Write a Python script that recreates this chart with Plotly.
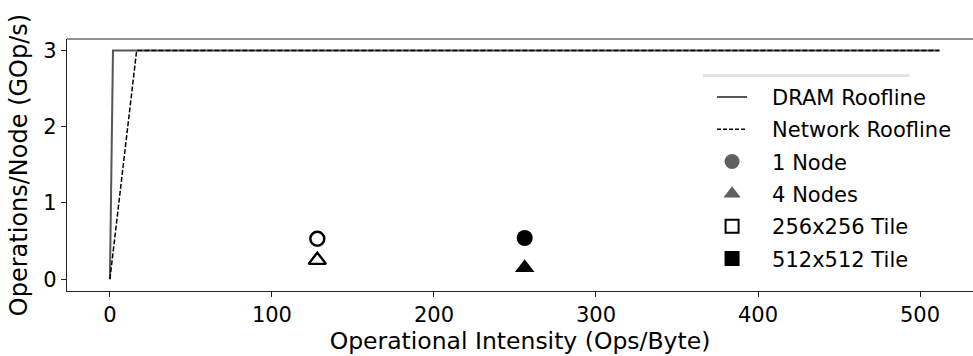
import plotly.graph_objects as go

# Roofline data
roof_x_dram = [0, 1.875, 512]
roof_y_dram = [0, 3, 3]
roof_x_net = [0, 16.5, 512]
roof_y_net = [0, 3, 3]

# Measured points
tile256_x = [128, 128]
tile256_y = [0.53, 0.25]
tile512_x = [256, 256]
tile512_y = [0.54, 0.15]
node_symbols = ["circle", "triangle-up"]

x_ticks = [0, 100, 200, 300, 400, 500]
y_ticks = [0, 1, 2, 3]

FONT = "DejaVu Sans"
NB = "\u00a0" * 3
fig = go.Figure()

fig.add_trace(go.Scatter(x=roof_x_dram, y=roof_y_dram, mode="lines",
                         line=dict(color="#555555", width=2), showlegend=False))
fig.add_trace(go.Scatter(x=roof_x_net, y=roof_y_net, mode="lines",
                         line=dict(color="black", width=1.5, dash="5px,2px"), showlegend=False))

fig.add_trace(go.Scatter(x=tile256_x, y=tile256_y, mode="markers",
                         marker=dict(symbol=node_symbols, size=[14, 15], opacity=1,
                                     color="white", line=dict(color="black", width=2.4)),
                         showlegend=False))
fig.add_trace(go.Scatter(x=tile512_x, y=tile512_y, mode="markers",
                         marker=dict(symbol=node_symbols, size=[16, 17], opacity=1,
                                     color="black", line=dict(color="black", width=0)),
                         showlegend=False))

# Legend proxies
legend_items = [
    ("DRAM Roofline", dict(mode="lines", line=dict(color="#555555", width=2))),
    ("Network Roofline", dict(mode="lines", line=dict(color="black", width=1.5, dash="4px,2px"))),
    ("1 Node", dict(mode="markers", marker=dict(symbol="circle", size=15, color="#606060"))),
    ("4 Nodes", dict(mode="markers", marker=dict(symbol="triangle-up", size=15, color="#606060"))),
    ("256x256 Tile", dict(mode="markers", marker=dict(symbol="square", size=13, color="white",
                                                       line=dict(color="black", width=2)))),
    ("512x512 Tile", dict(mode="markers", marker=dict(symbol="square", size=15, color="black"))),
]
for i, (name, kw) in enumerate(legend_items):
    fig.add_trace(go.Scatter(x=[None], y=[None], name=NB + name, legendgroup=f"g{i}", **kw))

axis_common = dict(showline=True, linecolor="#222222", linewidth=1.2, ticks="outside",
                   ticklen=5, tickcolor="#222222", showgrid=False, zeroline=False,
                   tickfont=dict(family=FONT, size=21, color="black"))

fig.update_xaxes(range=[-26.5, 532.7], tickvals=x_ticks,
                 title=dict(text="Operational Intensity (Ops/Byte)",
                            font=dict(family=FONT, size=23.5, color="black"), standoff=3),
                 **axis_common)
fig.update_yaxes(range=[-0.155, 3.15], tickvals=y_ticks,
                 title=dict(text="Operations/Node (GOp/s)",
                            font=dict(family=FONT, size=24, color="black"), standoff=8),
                 **axis_common)

fig.update_layout(
    width=973, height=356,
    margin=dict(l=67, r=0, t=39, b=65),
    plot_bgcolor="white", paper_bgcolor="white",
    font=dict(family=FONT, color="black"),
    legend=dict(x=0.712, y=0.85, xanchor="left", yanchor="top",
                bgcolor="rgba(255,255,255,0)", borderwidth=0,
                font=dict(family=FONT, size=21, color="black"),
                tracegroupgap=2),
    shapes=[
        dict(type="line", xref="paper", yref="paper", x0=0, x1=1, y0=1, y1=1,
             line=dict(color="#222222", width=1.2), layer="above"),
        dict(type="line", xref="paper", yref="paper", x0=0.702, x1=0.93, y0=0.855, y1=0.855,
             line=dict(color="rgba(200,200,200,0.5)", width=3), layer="below"),
    ],
)

fig.write_html("out.html")
